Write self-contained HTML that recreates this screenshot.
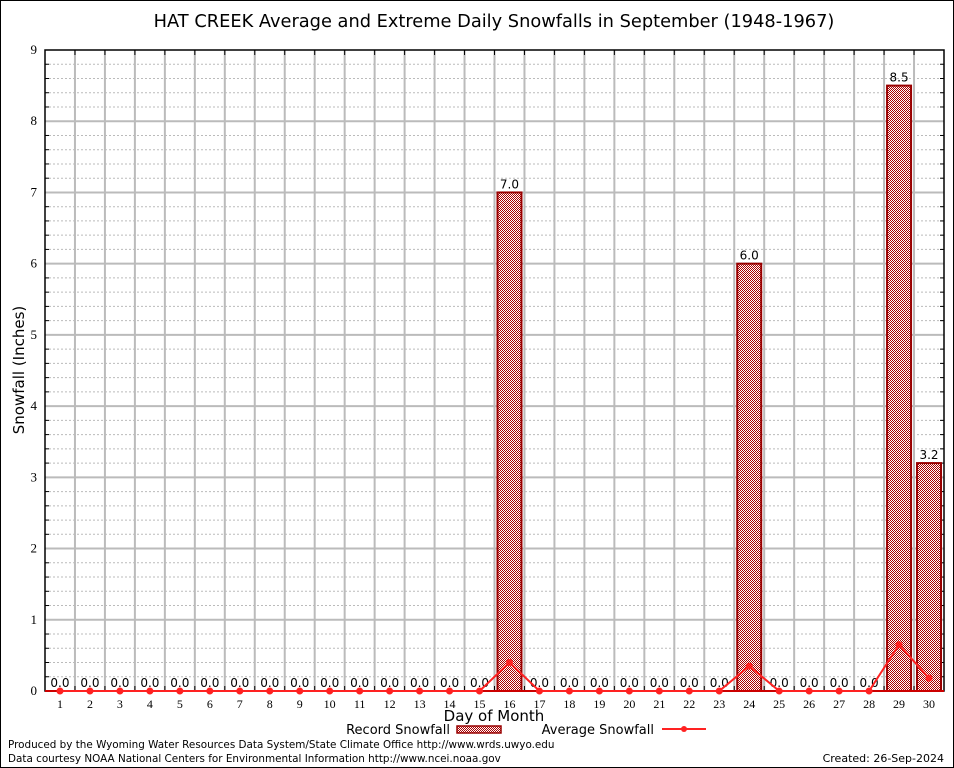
<!DOCTYPE html>
<html><head><meta charset="utf-8"><style>
body{margin:0;background:#fff}
svg{display:block;font-family:"DejaVu Sans","Liberation Sans",sans-serif}
</style></head><body>
<svg id="c" width="954" height="768">
<defs><pattern id="chk" width="2" height="2" patternUnits="userSpaceOnUse"><rect width="2" height="2" fill="#fff"/><rect width="1" height="1" fill="#a00"/><rect x="1" y="1" width="1" height="1" fill="#a00"/></pattern></defs>
<rect x="0.5" y="0.5" width="953" height="767" fill="#fff" stroke="#000"/>
<text x="494" y="27" font-size="17.8" text-anchor="middle">HAT CREEK Average and Extreme Daily Snowfalls in September (1948-1967)</text>
<g id="grid"></g><g id="marks"></g>
<text x="24" y="370" font-size="15" text-anchor="middle" transform="rotate(-90 24 370)">Snowfall (Inches)</text>
<text x="494" y="721" font-size="15" text-anchor="middle">Day of Month</text>
<g><text x="450" y="734" font-size="13" text-anchor="end">Record Snowfall</text><rect x="457" y="726" width="44" height="7" fill="url(#chk)" stroke="#900" stroke-width="1.5"/></g>
<g><text x="654" y="734" font-size="13" text-anchor="end">Average Snowfall</text><line x1="662" y1="729" x2="706" y2="729" stroke="#f22" stroke-width="2"/><circle cx="684" cy="729" r="3" fill="#f22"/></g>
<text x="8" y="748" font-size="10.4">Produced by the Wyoming Water Resources Data System/State Climate Office http://www.wrds.uwyo.edu</text>
<text x="8" y="762" font-size="10.4">Data courtesy NOAA National Centers for Environmental Information http://www.ncei.noaa.gov</text>
<text x="944" y="762" font-size="11" text-anchor="end">Created: 26-Sep-2024</text>
</svg>
<script>
const days=[1,2,3,4,5,6,7,8,9,10,11,12,13,14,15,16,17,18,19,20,21,22,23,24,25,26,27,28,29,30];
const record=[0,0,0,0,0,0,0,0,0,0,0,0,0,0,0,7.0,0,0,0,0,0,0,0,6.0,0,0,0,0,8.5,3.2];
const average=[0,0,0,0,0,0,0,0,0,0,0,0,0,0,0,0.4,0,0,0,0,0,0,0,0.35,0,0,0,0,0.65,0.18];
const yTicks=[0,1,2,3,4,5,6,7,8,9];
const L=45,R=944,T=50,B=691,NS="http://www.w3.org/2000/svg";
const step=(R-L)/days.length;
const x=d=>L+(d-0.5)*step;
const y=v=>B-(v/9)*(B-T);
function mk(p,t,a){const e=document.createElementNS(NS,t);for(const k in a)e.setAttribute(k,a[k]);p.appendChild(e);return e;}
const g=document.getElementById('grid'),m=document.getElementById('marks');
for(let i=0;i<45;i++){const v=i*0.2;if(Math.abs(v-Math.round(v))<1e-6)continue;mk(g,'line',{x1:L,x2:R,y1:y(v),y2:y(v),stroke:'#bbb','stroke-dasharray':'2,2'});mk(g,'line',{x1:L,x2:L+4,y1:y(v),y2:y(v),stroke:'#000'});mk(g,'line',{x1:R-4,x2:R,y1:y(v),y2:y(v),stroke:'#000'});}
for(let i=1;i<days.length;i++){const xx=L+i*step;mk(g,'line',{x1:xx,x2:xx,y1:T,y2:B,stroke:'#bbb','stroke-width':2});mk(g,'line',{x1:xx,x2:xx,y1:B-5,y2:B,stroke:'#000'});mk(g,'line',{x1:xx,x2:xx,y1:T,y2:T+5,stroke:'#000'});}
yTicks.forEach(v=>{if(v>0&&v<9)mk(g,'line',{x1:L,x2:R,y1:y(v),y2:y(v),stroke:'#bbb','stroke-width':2});
const t=mk(g,'text',{x:L-8,y:y(v)+4,'font-size':13,'text-anchor':'end','font-family':'Liberation Serif,serif'});t.textContent=v;

});
mk(g,'rect',{x:L,y:T,width:R-L,height:B-T,fill:'none',stroke:'#000','stroke-width':1.5});
days.forEach((d,i)=>{const t=mk(g,'text',{x:x(d),y:B+17,'font-size':12,'text-anchor':'middle','font-family':'Liberation Serif,serif'});t.textContent=d;


const v=record[i];
if(v>0){const r=mk(m,'rect',{x:x(d)-12,y:y(v),width:24,height:B-y(v),fill:'url(#chk)',stroke:'#900','stroke-width':2});

}
const lb=mk(m,'text',{x:x(d),y:y(v)-4,'font-size':12,'text-anchor':'middle'});lb.textContent=v.toFixed(1);

});
mk(m,'line',{x1:L,x2:R,y1:B,y2:B,stroke:'#c00','stroke-width':2});
const pl=mk(m,'polyline',{points:days.map((d,i)=>x(d)+','+y(average[i])).join(' '),fill:'none',stroke:'#f22','stroke-width':2});


days.forEach((d,i)=>{const c=mk(m,'circle',{cx:x(d),cy:y(average[i]),r:3.5,fill:'#f22'});

});
</script>
</body></html>
